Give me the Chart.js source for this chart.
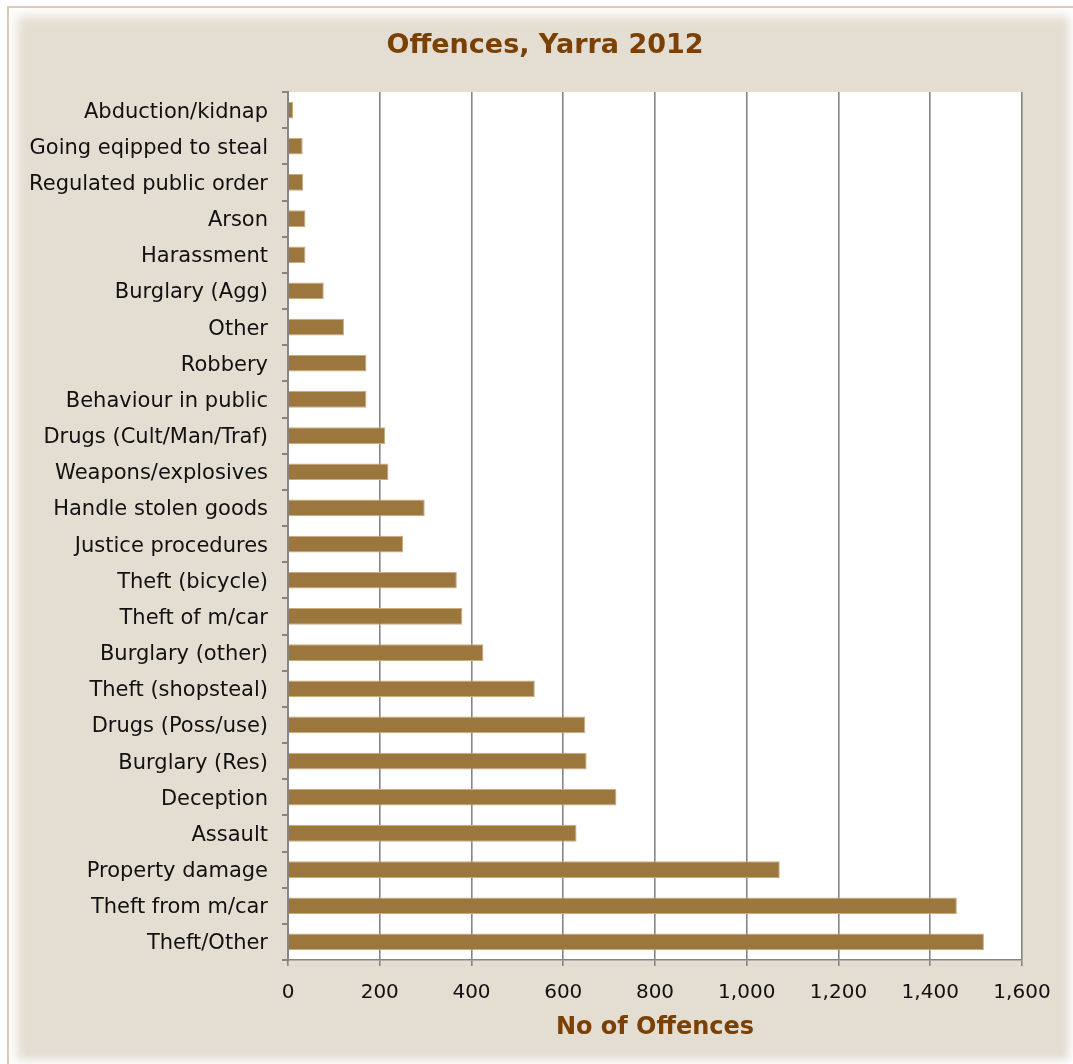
<!DOCTYPE html>
<html>
<head>
<meta charset="utf-8">
<script src="https://cdn.jsdelivr.net/npm/chart.js@4"></script>
<style>
  html, body { margin: 0; padding: 0; background: #ffffff; }
  #frame {
    position: absolute; left: 7px; top: 6px; width: 1064px; height: 1056px;
    background: #e3ddd2;
    border-top: 2px solid #d8ccb6; border-left: 2px solid #d8ccb6;
    box-shadow: inset 14px 14px 12px -6px #ffffff, inset -10px -10px 10px -6px #ffffff;
  }
  #c { position: absolute; left: 0; top: 0; }
</style>
</head>
<body>
<div id="frame"></div>
<canvas id="c" width="1073" height="1064"></canvas>
<script>
const categories = ["Abduction/kidnap","Going eqipped to steal","Regulated public order","Arson","Harassment","Burglary (Agg)","Other","Robbery","Behaviour in public","Drugs (Cult/Man/Traf)","Weapons/explosives","Handle stolen goods","Justice procedures","Theft (bicycle)","Theft of m/car","Burglary (other)","Theft (shopsteal)","Drugs (Poss/use)","Burglary (Res)","Deception","Assault","Property damage","Theft from m/car","Theft/Other"];
const offences = [11,32,33,38,38,78,122,171,171,212,219,298,251,368,380,426,538,648,651,716,629,1072,1458,1517];
const xTicks = [0,200,400,600,800,1000,1200,1400,1600];
const chartTitle = "Offences, Yarra 2012";
const xTitle = "No of Offences";

const whiteArea = {
  id: 'whiteArea',
  beforeDraw(chart) {
    const {ctx, chartArea: a} = chart;
    ctx.save(); ctx.fillStyle = '#ffffff';
    ctx.fillRect(a.left, a.top, a.right - a.left, a.bottom - a.top);
    ctx.restore();
  }
};

const titleText = {
  id: 'titleText',
  afterDraw(chart) {
    const ctx = chart.ctx;
    ctx.save();
    ctx.fillStyle = '#7b4003';
    ctx.font = 'bold 27px "DejaVu Sans"';
    ctx.textAlign = 'center';
    ctx.textBaseline = 'alphabetic';
    ctx.fillText(chartTitle, 545, 53);
    ctx.restore();
  }
};

new Chart(document.getElementById('c'), {
  type: 'bar',
  data: {
    labels: categories,
    datasets: [{
      data: offences,
      backgroundColor: '#9b763d',
      borderColor: '#c9ad7f',
      borderWidth: 1,
      borderSkipped: 'start',
      barPercentage: 0.46,
      categoryPercentage: 1
    }]
  },
  plugins: [whiteArea, titleText],
  options: {
    indexAxis: 'y',
    responsive: false,
    animation: false,
    layout: { padding: { left: 8, right: 51, top: 92, bottom: 0 } },
    plugins: {
      legend: { display: false },
      tooltip: { enabled: false },
      title: { display: false }
    },
    scales: {
      x: {
        min: 0, max: 1600,
        afterBuildTicks(scale) { scale.ticks = xTicks.map(v => ({ value: v })); },
        afterFit(scale) { scale.height = 104; },
        grid: { color: '#858585', lineWidth: 1.6, tickLength: 6, drawTicks: true },
        border: { color: '#858585', width: 1.6 },
        ticks: {
          color: '#111111', padding: 15,
          font: { family: 'DejaVu Sans', size: 20 },
          callback: v => v.toLocaleString('en-US')
        },
        title: {
          display: true, text: xTitle, color: '#7b4003',
          font: { family: 'DejaVu Sans', size: 24, weight: 'bold' },
          padding: { top: 0, bottom: 22 }
        }
      },
      y: {
        afterFit(scale) { scale.width = 280; },
        grid: { drawOnChartArea: false, drawTicks: true, tickLength: 6, color: '#858585', lineWidth: 2, offset: true },
        border: { color: '#858585', width: 2 },
        ticks: {
          color: '#111111', padding: 14, autoSkip: false, labelOffset: 2,
          font: { family: 'DejaVu Sans', size: 21 }
        }
      }
    }
  }
});
</script>
</body>
</html>
